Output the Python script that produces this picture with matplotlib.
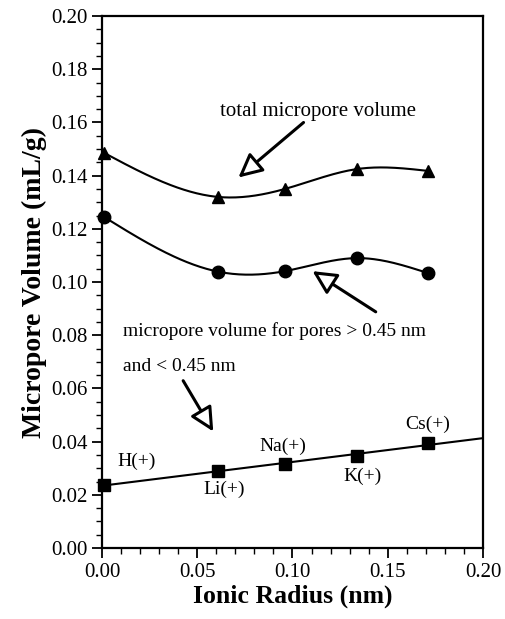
import numpy as np
import matplotlib
matplotlib.use("Agg")
import matplotlib.pyplot as plt

# ---- data ----
ions = ["H(+)", "Li(+)", "Na(+)", "K(+)", "Cs(+)"]
radius = [0.001, 0.061, 0.096, 0.134, 0.171]
total_vol = [0.1486, 0.1320, 0.1350, 0.1425, 0.1418]
large_vol = [0.1245, 0.1039, 0.1041, 0.1090, 0.1034]
small_vol = [0.0238, 0.0289, 0.0317, 0.0346, 0.0395]

plt.rcParams['font.family'] = ['Liberation Serif', 'DejaVu Serif']


def natural_spline(x, y, n=200):
    x = np.asarray(x, float); y = np.asarray(y, float)
    k = len(x)
    h = np.diff(x)
    A = np.zeros((k, k)); b = np.zeros(k)
    A[0, 0] = 1; A[-1, -1] = 1
    for i in range(1, k - 1):
        A[i, i - 1] = h[i - 1]
        A[i, i] = 2 * (h[i - 1] + h[i])
        A[i, i + 1] = h[i]
        b[i] = 3 * ((y[i + 1] - y[i]) / h[i] - (y[i] - y[i - 1]) / h[i - 1])
    c = np.linalg.solve(A, b)
    xs = np.linspace(x[0], x[-1], n)
    ys = np.empty_like(xs)
    for j, xv in enumerate(xs):
        i = min(np.searchsorted(x, xv, side='right') - 1, k - 2)
        dx = xv - x[i]
        bi = (y[i + 1] - y[i]) / h[i] - h[i] * (2 * c[i] + c[i + 1]) / 3
        di = (c[i + 1] - c[i]) / (3 * h[i])
        ys[j] = y[i] + bi * dx + c[i] * dx ** 2 + di * dx ** 3
    return xs, ys


fig = plt.figure(figsize=(5.06, 6.19), dpi=100)
ax = fig.add_axes([0.2016, 0.1147, 0.7529, 0.8593])

# total micropore volume
xs, ys = natural_spline(radius, total_vol)
ax.plot(xs, ys, color='black', lw=1.5)
ax.plot(radius, total_vol, '^', color='black', ms=8, clip_on=False)

# pores > 0.45 nm
xs, ys = natural_spline(radius, large_vol)
ax.plot(xs, ys, color='black', lw=1.5)
ax.plot(radius, large_vol, 'o', color='black', ms=9, clip_on=False)

# pores < 0.45 nm: linear fit
p = np.polyfit(radius, small_vol, 1)
xl = np.array([0.0, 0.2])
ax.plot(xl, np.polyval(p, xl), color='black', lw=1.5)
ax.plot(radius, small_vol, 's', color='black', ms=9, clip_on=False)

# ion labels
label_pos = [(0.018, 0.0326), (0.064, 0.0221), (0.0947, 0.0382), (0.137, 0.027), (0.171, 0.0464)]
for name, (lx, ly) in zip(ions, label_pos):
    ax.text(lx, ly, name, ha='center', va='center', fontsize=14)

# annotations
arrow = dict(arrowstyle='-|>,head_length=1.45,head_width=0.72', fc='white', ec='black', lw=2.2,
             shrinkA=0, shrinkB=0)
ax.text(0.1135, 0.1640, "total micropore volume", ha='center', va='center', fontsize=15)
ax.annotate("", xy=(0.0716, 0.1393), xytext=(0.1058, 0.160), arrowprops=arrow)

ax.text(0.011, 0.0817, "micropore volume for pores > 0.45 nm", ha='left', va='center', fontsize=14)
ax.annotate("", xy=(0.1105, 0.1041), xytext=(0.1437, 0.0888), arrowprops=arrow)

ax.text(0.011, 0.0682, "and < 0.45 nm", ha='left', va='center', fontsize=14)
ax.annotate("", xy=(0.0584, 0.0438), xytext=(0.0426, 0.0629), arrowprops=arrow)

# axes
ax.set_xlim(0, 0.20)
ax.set_ylim(0, 0.20)
ax.set_xticks(np.arange(0, 0.201, 0.05))
ax.set_xticks(np.arange(0, 0.201, 0.01), minor=True)
ax.set_yticks(np.arange(0, 0.201, 0.02))
ax.set_yticks(np.arange(0, 0.201, 0.005), minor=True)
ax.set_xticklabels(["%.2f" % v for v in np.arange(0, 0.201, 0.05)])
ax.set_yticklabels(["%.2f" % v for v in np.arange(0, 0.201, 0.02)])
ax.tick_params(which='major', direction='out', length=7, width=1.3, labelsize=15)
ax.tick_params(which='minor', direction='out', length=4, width=1.0)
for s in ax.spines.values():
    s.set_linewidth(1.6)

ax.set_xlabel("Ionic Radius (nm)", fontsize=18.5, fontweight='bold', labelpad=2)
ax.set_ylabel("Micropore Volume (mL/g)", fontsize=20, fontweight='bold', labelpad=3)

fig.savefig("out.png", dpi=100)
